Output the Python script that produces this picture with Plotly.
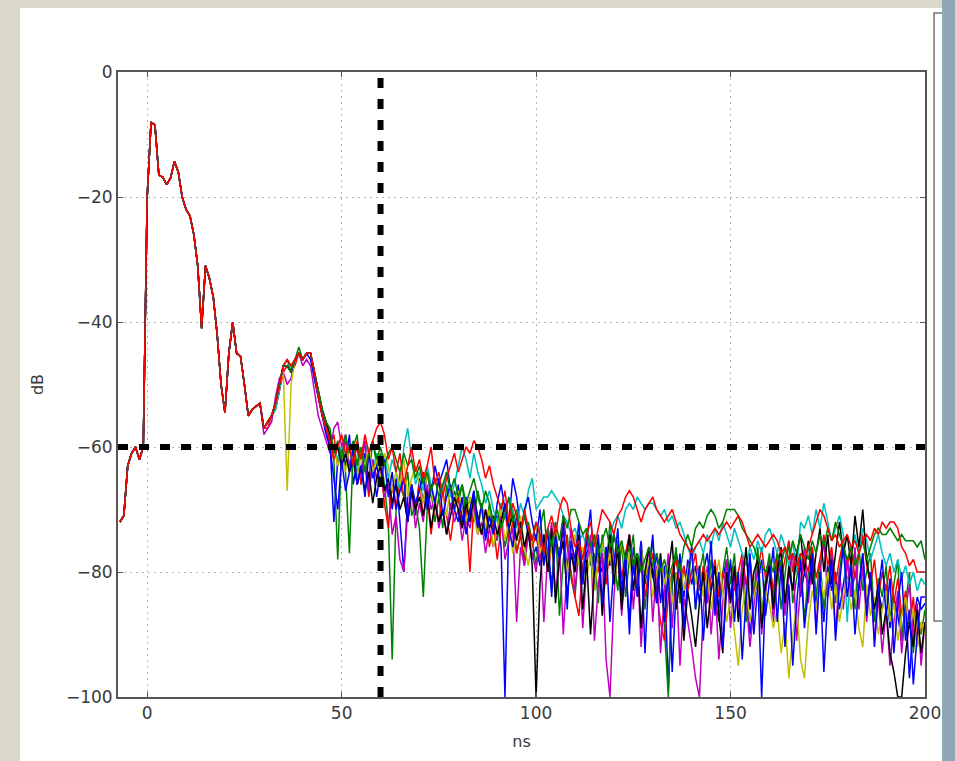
import plotly.graph_objects as go

# ---------------- data (dB vs ns) ----------------
HEAD_START_NS = -7
HEAD_DB = [-72, -71, -63, -61, -60, -62, -60, -20, -8, -8.5, -16.5, -16.8, -18, -17, -14.3, -16,
           -20, -22, -23, -26, -31, -41, -31, -33, -36, -42, -50, -54.5, -45, -40, -45, -45.5,
           -50, -55, -54, -53.5, -53]

TAIL_START_NS = 30
TAIL_END_NS = 200

BLUE_1 = [-57,-56,-55,-53,-50,-47,-47,-48,-46,-45,
          -46,-45,-46,-49,-52,-54,-57,-59,-72,-62,
          -60,-63,-58,-66,-62,-64,-61,-66,-63,-68,
          -64,-67,-66,-70,-65,-72,-80,-68,-66,-71,
          -65,-69,-64,-68,-63,-66,-64,-62,-67,-70,
          -66,-72,-68,-71,-67,-73,-69,-74,-70,-72,
          -71,-76,-100,-72,-65,-68,-73,-71,-74,-78,
          -76,-79,-74,-77,-82,-75,-78,-73,-80,-76,
          -79,-74,-81,-77,-75,-83,-78,-80,-76,-79,
          -74,-77,-84,-79,-88,-76,-80,-75,-82,-78,
          -81,-77,-85,-79,-99,-82,-77,-80,-84,-78,
          -82,-79,-85,-80,-77,-83,-79,-86,-81,-78,
          -84,-80,-87,-79,-82,-90,-84,-81,-100,-83,
          -79,-85,-81,-78,-86,-80,-83,-77,-84,-80,
          -82,-78,-85,-81,-88,-79,-83,-80,-86,-82,
          -78,-84,-80,-83,-77,-85,-81,-88,-83,-86,
          -82,-89,-84,-87,-91,-85,-97,-88,-84,-86,
          -85]
GREEN_1 = [-57,-56,-55,-53,-51,-47,-46,-48,-46,-44,
           -46,-45,-45,-48,-51,-54,-56,-59,-62,-78,
           -60,-64,-77,-60,-58,-66,-62,-65,-59,-63,
           -61,-66,-72,-94,-70,-66,-68,-64,-71,-69,
           -73,-84,-70,-67,-72,-68,-73,-66,-70,-67,
           -69,-66,-71,-68,-72,-67,-70,-74,-69,-73,
           -75,-71,-76,-73,-70,-77,-74,-78,-72,-75,
           -79,-73,-70,-78,-83,-72,-87,-78,-74,-81,
           -84,-76,-82,-73,-79,-77,-85,-74,-80,-72,
           -78,-83,-75,-84,-78,-74,-83,-76,-86,-79,
           -75,-84,-78,-89,-100,-81,-76,-85,-79,-83,
           -76,-86,-80,-77,-85,-78,-84,-88,-80,-76,
           -82,-77,-86,-79,-88,-78,-84,-76,-87,-81,
           -77,-84,-78,-86,-80,-75,-85,-81,-77,-88,
           -80,-76,-84,-78,-86,-81,-77,-85,-80,-75,
           -82,-78,-86,-76,-83,-80,-77,-88,-81,-84,
           -79,-88,-82,-78,-91,-85,-80,-93,-86,-90,
           -86]
RED_1 = [-57,-57,-55,-54,-51,-48,-47,-48,-47,-45,
         -46,-45,-45,-48,-52,-55,-57,-60,-58,-63,
         -61,-59,-64,-62,-60,-66,-63,-68,-62,-65,
         -63,-69,-73,-66,-70,-64,-68,-72,-67,-70,
         -66,-71,-68,-74,-69,-72,-67,-71,-75,-70,
         -68,-73,-70,-80,-69,-72,-74,-70,-76,-72,
         -78,-73,-70,-75,-72,-77,-74,-79,-73,-76,
         -74,-78,-75,-80,-76,-73,-79,-71,-76,-80,
         -84,-87,-79,-75,-78,-74,-80,-77,-82,-76,
         -79,-75,-81,-77,-74,-80,-82,-78,-84,-80,
         -77,-83,-88,-91,-84,-80,-78,-82,-79,-83,
         -80,-77,-83,-79,-85,-81,-78,-84,-80,-82,
         -79,-83,-80,-77,-82,-78,-84,-80,-76,-81,
         -79,-83,-77,-81,-78,-75,-80,-77,-82,-78,
         -80,-76,-81,-78,-74,-79,-76,-82,-78,-75,
         -79,-76,-81,-77,-74,-79,-82,-78,-84,-80,
         -83,-79,-85,-81,-87,-83,-89,-84,-92,-88,
         -90]
CYAN_1 = [-57,-56,-55,-54,-51,-47,-47,-47,-46,-45,
          -46,-45,-45,-48,-51,-54,-56,-58,-60,-62,
          -60,-61,-63,-60,-64,-61,-59,-62,-64,-61,
          -63,-61,-65,-62,-64,-67,-60,-57,-62,-66,
          -64,-67,-63,-66,-69,-65,-67,-64,-68,-66,
          -63,-60,-62,-65,-61,-64,-66,-69,-67,-70,
          -72,-69,-71,-68,-70,-73,-69,-71,-67,-65,
          -70,-69,-68,-68,-67,-68,-69,-71,-72,-74,
          -73,-75,-74,-76,-77,-75,-78,-76,-79,-74,
          -72,-71,-73,-70,-69,-70,-68,-69,-70,-69,
          -69,-70,-71,-70,-72,-71,-73,-72,-74,-76,
          -78,-76,-75,-77,-74,-76,-73,-75,-72,-74,
          -76,-73,-75,-77,-79,-76,-78,-75,-77,-74,
          -73,-75,-77,-74,-76,-79,-75,-80,-72,-73,
          -71,-74,-70,-73,-69,-72,-75,-73,-71,-74,
          -88,-78,-74,-77,-73,-75,-78,-76,-74,-77,
          -79,-77,-80,-78,-81,-79,-82,-80,-83,-81,
          -82]
MAGENTA_1 = [-58,-57,-56,-52,-49,-48,-50,-49,-46,-45,
             -47,-46,-47,-51,-55,-57,-59,-61,-57,-56,
             -60,-58,-63,-61,-66,-64,-59,-67,-62,-65,
             -64,-68,-66,-74,-71,-78,-80,-70,-67,-73,
             -69,-72,-66,-70,-68,-73,-70,-74,-69,-72,
             -70,-75,-71,-73,-69,-74,-72,-77,-73,-76,
             -74,-71,-78,-75,-73,-88,-76,-79,-74,-77,
             -80,-74,-88,-77,-72,-84,-76,-90,-79,-73,
             -83,-76,-89,-79,-74,-91,-82,-77,-94,-100,
             -84,-76,-87,-79,-74,-86,-78,-92,-81,-76,
             -88,-79,-93,-83,-77,-89,-80,-95,-84,-88,
             -92,-97,-100,-86,-79,-90,-82,-94,-85,-78,
             -89,-81,-86,-78,-84,-92,-85,-79,-90,-83,
             -78,-88,-81,-76,-87,-80,-77,-91,-82,-76,
             -85,-78,-89,-80,-75,-84,-77,-90,-80,-86,
             -78,-84,-76,-86,-79,-88,-80,-91,-84,-93,
             -86,-95,-88,-83,-93,-86,-82,-91,-85,-95,
             -88]
YELLOW_1 = [-57,-56,-55,-53,-50,-48,-67,-50,-46,-45,
            -46,-45,-45,-48,-51,-54,-56,-58,-60,-63,
            -61,-64,-60,-62,-65,-61,-63,-60,-64,-62,
            -65,-61,-63,-67,-64,-66,-62,-68,-65,-63,
            -66,-69,-64,-67,-70,-65,-68,-71,-66,-69,
            -67,-70,-72,-68,-71,-74,-69,-73,-70,-76,
            -73,-70,-75,-72,-77,-74,-71,-76,-79,-75,
            -72,-77,-74,-79,-76,-73,-78,-75,-80,-77,
            -74,-79,-76,-81,-77,-83,-78,-75,-80,-77,
            -82,-78,-75,-80,-77,-83,-79,-76,-81,-78,
            -84,-80,-77,-82,-79,-85,-81,-78,-83,-80,
            -77,-82,-79,-84,-80,-86,-82,-78,-83,-88,
            -84,-90,-95,-86,-82,-88,-84,-81,-87,-83,
            -85,-89,-86,-93,-88,-97,-90,-85,-94,-97,
            -88,-83,-86,-81,-84,-80,-86,-82,-88,-84,
            -81,-86,-83,-89,-92,-82,-87,-84,-90,-86,
            -83,-88,-85,-91,-87,-84,-89,-86,-92,-88,
            -90]
BLACK_1 = [-57,-56,-55,-53,-50,-47,-47,-48,-46,-45,
           -46,-45,-45,-48,-51,-54,-56,-58,-61,-60,
           -63,-61,-64,-62,-66,-63,-67,-64,-69,-65,
           -63,-67,-65,-69,-66,-70,-68,-72,-67,-70,
           -68,-71,-67,-73,-69,-72,-70,-74,-71,-68,
           -70,-73,-69,-72,-68,-71,-74,-70,-73,-71,
           -74,-72,-69,-73,-71,-75,-72,-76,-73,-79,
           -100,-82,-74,-80,-73,-85,-78,-75,-84,-77,
           -80,-74,-86,-78,-90,-80,-75,-87,-79,-74,
           -82,-76,-86,-79,-74,-83,-77,-89,-80,-76,
           -80,-85,-77,-88,-80,-75,-86,-81,-91,-83,
           -87,-92,-85,-80,-89,-83,-79,-87,-93,-80,
           -85,-79,-88,-82,-76,-86,-80,-78,-89,-82,
           -79,-86,-80,-76,-85,-79,-83,-77,-74,-80,
           -75,-82,-77,-73,-80,-74,-82,-77,-72,-77,
           -74,-79,-71,-76,-70,-78,-82,-86,-82,-90,
           -86,-93,-96,-100,-100,-93,-88,-92,-86,-93,
           -88]
BLUE_2 = [-57,-56,-55,-53,-50,-47,-47,-48,-46,-45,
          -46,-45,-45,-49,-52,-55,-58,-60,-65,-70,
          -62,-67,-64,-60,-66,-63,-68,-61,-65,-63,
          -66,-62,-68,-64,-70,-67,-65,-72,-66,-69,
          -67,-64,-70,-66,-69,-65,-71,-68,-66,-70,
          -72,-68,-74,-70,-67,-73,-69,-75,-71,-74,
          -69,-66,-70,-73,-76,-71,-74,-70,-68,-72,
          -75,-70,-79,-73,-84,-74,-78,-71,-86,-75,
          -78,-72,-82,-75,-70,-80,-74,-85,-76,-88,
          -79,-73,-83,-77,-90,-78,-84,-76,-93,-80,
          -74,-85,-78,-88,-80,-96,-83,-77,-89,-81,
          -76,-86,-79,-91,-82,-75,-87,-80,-92,-83,
          -78,-88,-80,-94,-84,-77,-90,-82,-78,-87,
          -81,-76,-88,-79,-92,-82,-95,-85,-78,-89,
          -83,-77,-90,-80,-96,-84,-78,-91,-82,-76,
          -84,-79,-90,-82,-77,-87,-80,-92,-83,-78,
          -87,-81,-93,-85,-80,-91,-86,-98,-90,-84,
          -84]
GREEN_2 = [-57,-56,-55,-53,-50,-47,-47,-48,-46,-45,
           -46,-45,-45,-48,-51,-54,-56,-57,-61,-59,
           -62,-58,-61,-59,-63,-60,-64,-61,-59,-62,
           -60,-63,-61,-60,-62,-64,-61,-63,-62,-65,
           -63,-66,-64,-67,-65,-68,-66,-64,-67,-65,
           -68,-66,-69,-67,-65,-68,-70,-67,-69,-72,
           -70,-73,-71,-68,-72,-70,-74,-71,-73,-75,
           -72,-74,-77,-73,-76,-72,-75,-71,-73,-70,
           -70,-72,-74,-73,-76,-74,-77,-75,-73,-76,
           -74,-77,-75,-78,-76,-79,-77,-80,-78,-76,
           -79,-77,-80,-78,-81,-79,-77,-80,-76,-74,
           -76,-73,-72,-73,-71,-70,-71,-73,-72,-70,
           -70,-70,-71,-73,-74,-75,-76,-78,-79,-80,
           -78,-80,-77,-79,-76,-78,-75,-77,-74,-76,
           -78,-75,-77,-74,-76,-73,-75,-72,-74,-76,
           -78,-76,-79,-77,-75,-78,-76,-74,-73,-74,
           -74,-73,-74,-75,-74,-75,-75,-75,-76,-75,
           -78]
RED_2 = [-57,-56,-55,-53,-50,-47,-46,-47,-46,-45,
         -46,-45,-45,-48,-52,-55,-57,-59,-62,-60,
         -58,-61,-60,-63,-59,-62,-58,-61,-59,-57,
         -56,-58,-62,-60,-64,-61,-66,-63,-60,-64,
         -62,-65,-63,-60,-66,-64,-68,-65,-63,-61,
         -64,-62,-60,-61,-59,-60,-62,-65,-63,-66,
         -68,-70,-67,-72,-69,-71,-74,-70,-73,-75,
         -72,-74,-77,-73,-71,-74,-70,-68,-69,-73,
         -76,-75,-78,-74,-72,-76,-73,-70,-71,-72,
         -74,-71,-70,-68,-67,-68,-70,-72,-70,-69,
         -68,-70,-71,-72,-71,-70,-72,-74,-75,-76,
         -77,-76,-75,-74,-75,-74,-73,-74,-73,-72,
         -73,-72,-71,-72,-74,-76,-75,-74,-75,-76,
         -75,-74,-75,-77,-76,-78,-77,-79,-77,-78,
         -76,-74,-72,-70,-71,-73,-75,-74,-76,-75,
         -74,-76,-75,-77,-75,-74,-75,-73,-74,-72,
         -73,-72,-72,-73,-76,-77,-79,-78,-80,-80,
         -80]

SERIES = [("#0000ff", BLUE_1), ("#008000", GREEN_1), ("#ff0000", RED_1),
          ("#00bfbf", CYAN_1), ("#bf00bf", MAGENTA_1), ("#bfbf00", YELLOW_1),
          ("#000000", BLACK_1), ("#0000ff", BLUE_2), ("#008000", GREEN_2),
          ("#ff0000", RED_2)]

THRESH_NS = 60
THRESH_DB = -60

X_TICKS = [0, 50, 100, 150, 200]
Y_TICKS = [0, -20, -40, -60, -80, -100]

# ---------------- figure ----------------
ns = list(range(HEAD_START_NS, TAIL_END_NS + 1))
fig = go.Figure()
for color, tail in SERIES:
    fig.add_trace(go.Scatter(x=ns, y=HEAD_DB + tail, mode="lines",
                             line=dict(color=color, width=1.5), showlegend=False,
                             hoverinfo="skip"))

FONT = "DejaVu Sans"
TXT = "#3a3a3a"
fig.update_layout(
    width=955, height=761,
    margin=dict(l=118, r=30, t=72, b=64),
    paper_bgcolor="#dcd9cc",
    plot_bgcolor="#ffffff",
    font=dict(family=FONT, size=17, color=TXT),
    showlegend=False,
)
axis_common = dict(showline=True, linecolor="#555555", linewidth=2, mirror="allticks",
                   ticks="inside", ticklen=5, tickcolor="#555555", tickwidth=1,
                   showgrid=True, gridcolor="#b5b5b5", gridwidth=1, griddash="2px,4px",
                   zeroline=False, tickfont=dict(family=FONT, size=17, color=TXT))
fig.update_xaxes(range=[-7.5, 200], tickvals=X_TICKS, ticktext=[str(v) for v in X_TICKS],
                 title=dict(text="ns", font=dict(family=FONT, size=16, color=TXT), standoff=13),
                 **axis_common)
fig.update_yaxes(range=[-100, 0], tickvals=Y_TICKS,
                 ticktext=[("\u2212" + str(-v)) if v < 0 else str(v) for v in Y_TICKS],
                 title=dict(text="dB", font=dict(family=FONT, size=16, color=TXT), standoff=18),
                 **axis_common)

# threshold lines
fig.add_hline(y=THRESH_DB, line=dict(color="#000000", width=6, dash="10px,11px"), layer="above")
fig.add_vline(x=THRESH_NS, line=dict(color="#000000", width=6, dash="10px,11px"), layer="above")

# page decoration: white card, cut-off legend frame, blue-grey edge
fig.add_shape(type="rect", xref="paper", yref="paper", x0=-0.1214, x1=1.0211, y0=-0.2, y1=1.1024,
              fillcolor="#ffffff", line=dict(width=0), layer="below")
fig.add_shape(type="rect", xref="paper", yref="paper", x0=1.0112, x1=1.03, y0=0.1216, y1=1.0944,
              fillcolor="#ffffff", line=dict(color="#777777", width=1.5), layer="above")
fig.add_shape(type="rect", xref="paper", yref="paper", x0=1.0211, x1=1.06, y0=-0.2, y1=1.2,
              fillcolor="#8da8b2", line=dict(width=0), layer="above")

fig.write_html("out.html")
